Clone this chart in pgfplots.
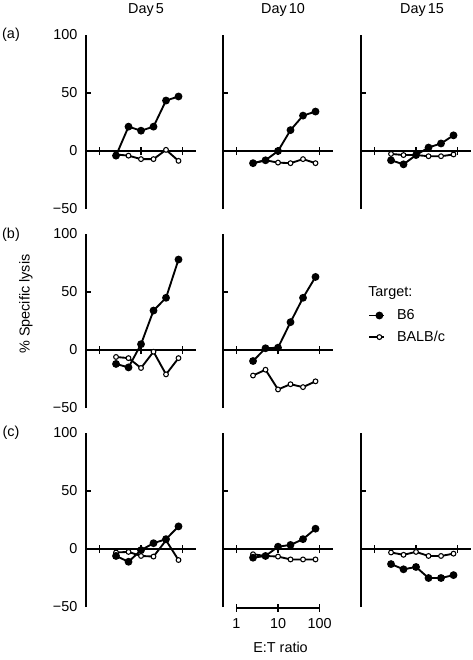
\documentclass[border=0pt]{standalone}
\usepackage{fontspec}
\setmainfont{Liberation Sans}
\usepackage{pgfplots}
\pgfplotsset{compat=1.18}
\newcommand\myfont{\fontsize{10.8}{13}\selectfont}
\pgfplotsset{
  mypanel/.style={
    scale only axis, width=82.5pt, height=130.5pt,
    xmin=0.473, xmax=211, ymin=-50, ymax=100,
    axis x line=none, axis y line=left,
    axis line style={-, line width=1.4pt},
    xtick=\empty, ytick={-50,0,50,100}, yticklabels={},
    major tick length=0pt,
    tick label style={font=\myfont},
    yticklabel style={anchor=east, xshift=-3pt},
    clip=false, anchor=south west,
  },
  mylab/.style={yticklabels={−50,0,50,100}},
  myBsix/.style={black, line width=1.4pt, mark=*, mark size=2.2pt, mark options={solid, fill=black}},
  myBalb/.style={black, line width=1.4pt, mark=*, mark size=1.8pt, mark options={solid, fill=white, line width=0.8pt}},
}
\newcommand\xtk[2]{\draw[line width=1pt] ([yshift=-3pt]axis cs:#1,#2) -- ([yshift=3pt]axis cs:#1,#2);}
\newcommand\zeroline{%
  \draw[line width=1.4pt] (axis cs:0.473,0) -- (axis cs:211,0);
  \xtk{1}{0}\xtk{10}{0}\xtk{100}{0}
  \draw[line width=1pt] (axis cs:0.473,50) -- ([xshift=3.5pt]axis cs:0.473,50);
}
\begin{document}
\begin{tikzpicture}[font=\myfont]
% ---------- row (a)
\begin{semilogxaxis}[mypanel, mylab, at={(64.5pt,-156.75pt)}]
\zeroline
\addplot[myBalb] coordinates {(2.5,-3) (5,-4) (10,-7) (20,-7) (40,1) (80,-8.5)};
\addplot[myBsix] coordinates {(2.5,-4) (5,21) (10,17.5) (20,21) (40,43.5) (80,47)};
\end{semilogxaxis}
\begin{semilogxaxis}[mypanel, at={(167.25pt,-156.75pt)}]
\zeroline
\addplot[myBalb] coordinates {(2.5,-10.5) (5,-8) (10,-10) (20,-10.5) (40,-7) (80,-10.5)};
\addplot[myBsix] coordinates {(2.5,-10.5) (5,-8) (10,0) (20,18) (40,30.5) (80,34)};
\end{semilogxaxis}
\begin{semilogxaxis}[mypanel, at={(270.75pt,-156.75pt)}]
\zeroline
\addplot[myBalb] coordinates {(2.5,-2.5) (5,-3.5) (10,-3.5) (20,-4.5) (40,-4.5) (80,-3)};
\addplot[myBsix] coordinates {(2.5,-8) (5,-11.5) (10,-3.5) (20,3) (40,6.5) (80,13.5)};
\end{semilogxaxis}
% ---------- row (b)
\begin{semilogxaxis}[mypanel, mylab, at={(64.5pt,-306pt)}]
\zeroline
\addplot[myBalb] coordinates {(2.5,-6) (5,-7) (10,-15.5) (20,-1.5) (40,-21) (80,-7)};
\addplot[myBsix] coordinates {(2.5,-12) (5,-15) (10,5) (20,34) (40,45) (80,78)};
\end{semilogxaxis}
\begin{semilogxaxis}[mypanel, at={(167.25pt,-306pt)},
  legend style={at={(1.32,0.469)}, anchor=west, draw=none, fill=none, inner sep=0pt,
    font=\myfont, row sep=3pt, column sep=7pt},
  legend cell align=left,
  legend image code/.code={\draw[mark repeat=2,mark phase=2,#1] plot coordinates {(0pt,0pt) (7.5pt,0pt) (11pt,0pt)};}]
\zeroline
\addplot[myBsix] coordinates {(2.5,-9.5) (5,1.5) (10,2) (20,24) (40,45) (80,63)};
\addlegendentry{B6}
\addplot[myBalb] coordinates {(2.5,-22) (5,-17) (10,-34) (20,-29.5) (40,-32) (80,-27)};
\addlegendentry{BALB/c}
\end{semilogxaxis}
% ---------- row (c)
\begin{semilogxaxis}[mypanel, mylab, at={(64.5pt,-455.25pt)}]
\zeroline
\addplot[myBalb] coordinates {(2.5,-3) (5,-2.5) (10,-6) (20,-6.5) (40,7.5) (80,-9.5)};
\addplot[myBsix] coordinates {(2.5,-6) (5,-11) (10,-1) (20,5) (40,8.5) (80,19.5)};
\end{semilogxaxis}
\begin{semilogxaxis}[mypanel, at={(167.25pt,-455.25pt)}]
\zeroline
\addplot[myBalb] coordinates {(2.5,-4.5) (5,-6) (10,-6.5) (20,-9) (40,-9) (80,-9)};
\addplot[myBsix] coordinates {(2.5,-7.5) (5,-6) (10,2) (20,3.5) (40,8.5) (80,17.5)};
% scale bar
\draw[line width=1.4pt] (axis cs:1,-50.5) -- (axis cs:100,-50.5);
\xtk{1}{-50.5}\xtk{10}{-50.5}\xtk{100}{-50.5}
\node at (axis cs:1,-64) {1};
\node at (axis cs:10,-64) {10};
\node at (axis cs:100,-64) {100};
\node at (axis cs:11.5,-84.5) {E:T ratio};
\end{semilogxaxis}
\begin{semilogxaxis}[mypanel, at={(270.75pt,-455.25pt)}]
\zeroline
\addplot[myBalb] coordinates {(2.5,-3) (5,-5) (10,-2.5) (20,-6) (40,-6) (80,-4)};
\addplot[myBsix] coordinates {(2.5,-13) (5,-17.5) (10,-15.5) (20,-25) (40,-25) (80,-22.5)};
\end{semilogxaxis}
% ---------- texts
\node at (109.5pt,-7.5pt) {Day\hspace{0.15em}5};
\node at (212.25pt,-7.5pt) {Day\hspace{0.15em}10};
\node at (316.5pt,-7.5pt) {Day\hspace{0.15em}15};
\node at (8.25pt,-26.25pt) {(a)};
\node at (8.25pt,-176.25pt) {(b)};
\node at (8.25pt,-324.75pt) {(c)};
\node[rotate=90] at (19.5pt,-228pt) {\% Specific lysis};
\node[anchor=west, inner sep=0pt] at (276pt,-219.75pt) {Target:};
\pgfresetboundingbox
\path (0,0) rectangle (354.75pt,-495pt);
\end{tikzpicture}
\end{document}
